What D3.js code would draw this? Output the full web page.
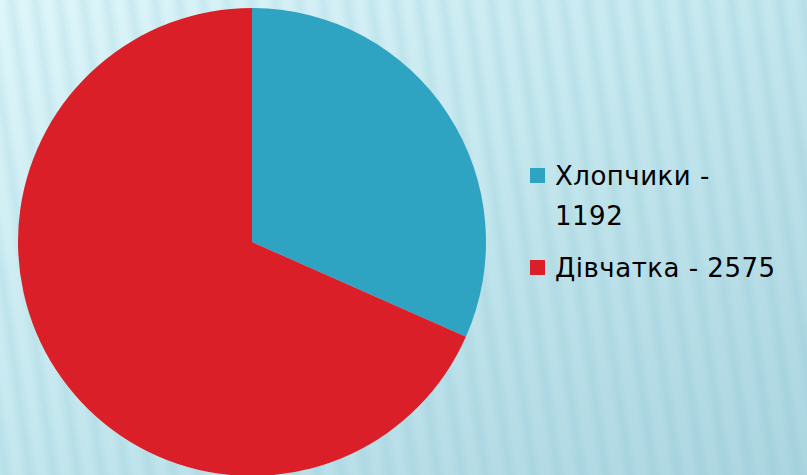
<!DOCTYPE html>
<html>
<head>
<meta charset="utf-8">
<script src="https://cdn.jsdelivr.net/npm/d3@7"></script>
<style>
  html, body { margin: 0; padding: 0; overflow: hidden; }
  svg { display: block; }
</style>
</head>
<body>
<div id="chart"></div>
<script>
const labels = ['Хлопчики', 'Дівчатка']
const values = [1192, 2575]
const colors = ['#2ea4c2', '#da1f28']

const w = 807, h = 475
const svg = d3.select('#chart').append('svg').attr('width', w).attr('height', h)
const defs = svg.append('defs')

// фон
const bg = defs.append('linearGradient').attr('id', 'bg')
  .attr('x1', 0).attr('y1', 0).attr('x2', 1).attr('y2', 1)
bg.append('stop').attr('offset', '0%').attr('stop-color', '#def6fa')
bg.append('stop').attr('offset', '45%').attr('stop-color', '#c6e8ef')
bg.append('stop').attr('offset', '100%').attr('stop-color', '#abd5e0')
svg.append('rect').attr('width', w).attr('height', h).attr('fill', 'url(#bg)')

// смуги
const stripe = defs.append('linearGradient').attr('id', 'stripe')
  .attr('x1', 0).attr('y1', 0).attr('x2', 1).attr('y2', 0)
stripe.append('stop').attr('offset', '0%').attr('stop-color', '#6fb4c6').attr('stop-opacity', 0)
stripe.append('stop').attr('offset', '50%').attr('stop-color', '#6fb4c6').attr('stop-opacity', 0.15)
stripe.append('stop').attr('offset', '100%').attr('stop-color', '#6fb4c6').attr('stop-opacity', 0)
const pat = defs.append('pattern').attr('id', 'stripes')
  .attr('patternUnits', 'userSpaceOnUse').attr('width', 24).attr('height', 40)
  .attr('patternTransform', 'skewX(8)')
pat.append('rect').attr('x', 2).attr('width', 18).attr('height', 40).attr('fill', 'url(#stripe)')
svg.append('rect').attr('width', w).attr('height', h).attr('fill', 'url(#stripes)')

// пиріг
const cx = 252, cy = 242, r = 234
const pie = d3.pie().sort(null).value(d => d)
const arc = d3.arc().innerRadius(0).outerRadius(r)
svg.append('g').attr('transform', `translate(${cx},${cy})`)
  .selectAll('path').data(pie(values))
  .enter().append('path')
  .attr('d', arc)
  .attr('fill', (d, i) => colors[i])

// легенда
const lg = svg.append('g').attr('transform', 'translate(530,0)')
  .style('font-family', '"DejaVu Sans", sans-serif')
  .style('font-size', '26px').style('letter-spacing', '0.5px').style('fill', '#000')
const rows = [
  { lines: [`${labels[0]} -`, `${values[0]}`], y: 185 },
  { lines: [`${labels[1]} - ${values[1]}`], y: 277 }
]
rows.forEach((row, i) => {
  lg.append('rect').attr('x', 0).attr('y', row.y - 17).attr('width', 15).attr('height', 15)
    .attr('fill', colors[i])
  const t = lg.append('text').attr('x', 25).attr('y', row.y)
  row.lines.forEach((s, k) => {
    t.append('tspan').attr('x', 25).attr('dy', k === 0 ? 0 : 40).text(s)
  })
})
</script>
</body>
</html>
